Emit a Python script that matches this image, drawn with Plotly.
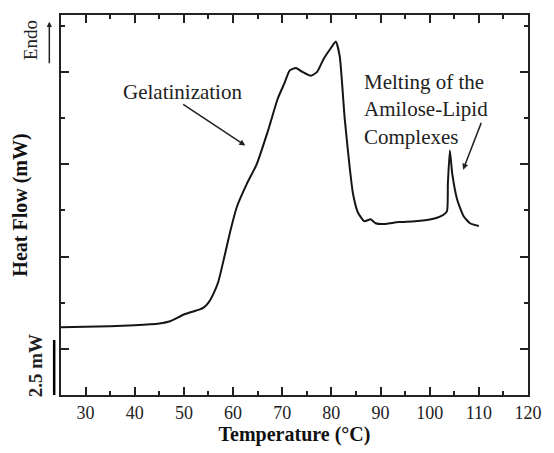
import plotly.graph_objects as go

# Data
temperature_c = [25, 30, 35, 40, 45, 47.2, 50, 53.1, 54, 55, 56, 57, 58.2, 59.5, 60.8,
                 62.8, 64.8, 67.1, 69.1, 70.5, 71.5, 72.8, 74.1, 75.8, 77.1, 78.4, 79.7,
                 80.9, 81.7, 82.7, 83.7, 84.4, 85.4, 86.7, 88.0, 89.0, 90.3, 93.7, 97.0,
                 100.3, 102.3, 103.5, 103.7, 104.1, 104.6, 105.6, 106.9, 108.2, 110]
heat_flow_mw = [3.08, 3.10, 3.13, 3.17, 3.25, 3.35, 3.66, 3.88, 3.97, 4.20, 4.60, 5.15,
                6.25, 7.50, 8.57, 9.60, 10.49, 12.01, 13.48, 14.20, 14.75, 14.87, 14.69,
                14.51, 14.69, 15.27, 15.71, 16.07, 15.40, 12.60, 10.40, 9.15, 8.30, 7.90,
                7.99, 7.81, 7.77, 7.86, 7.90, 7.99, 8.13, 8.35, 9.60, 11.12, 10.04, 8.88,
                8.13, 7.81, 7.68]

x_range = [25, 120]
y_range = [0, 17.277]
scale_bar_mw = 2.5

SERIF = "Liberation Serif, Times New Roman, serif"

fig = go.Figure()
fig.add_trace(go.Scatter(
    x=temperature_c, y=heat_flow_mw, mode="lines",
    line=dict(color="#151515", width=2, shape="spline", smoothing=0.5),
    showlegend=False, hoverinfo="skip"))

# Scale bar (2.5 mW)
fig.add_shape(type="line", xref="paper", yref="y",
              x0=-0.0146, x1=-0.0146, y0=0, y1=scale_bar_mw,
              line=dict(color="black", width=2.5))

annotations = [
    dict(text="Gelatinization", x=49.8, y=13.79, xref="x", yref="y",
         showarrow=False, font=dict(family=SERIF, size=21, color="#222")),
    dict(text="", x=62.49, y=11.34, ax=49.55, ay=13.26, xref="x", yref="y",
         axref="x", ayref="y", showarrow=True, arrowhead=2, arrowsize=0.8,
         arrowwidth=1.5, arrowcolor="#222"),
    dict(text="Melting of the<br>Amilose-Lipid<br>Complexes", x=86.3, y=13.0,
         xref="x", yref="y", xanchor="left", yanchor="middle", align="left",
         showarrow=False, font=dict(family=SERIF, size=21, color="#222")),
    dict(text="", x=106.8, y=10.24, ax=110.6, ay=12.44, xref="x", yref="y",
         axref="x", ayref="y", showarrow=True, arrowhead=2, arrowsize=0.8,
         arrowwidth=1.5, arrowcolor="#222"),
    dict(text="Endo", x=-0.065, y=(402 - 41) / 387, xref="paper", yref="paper",
         xanchor="center", yanchor="middle", textangle=-90,
         showarrow=False, font=dict(family=SERIF, size=19, color="#222")),
    dict(text="", x=-0.025, y=(402 - 22) / 387, xref="paper", yref="paper",
         ax=0, ay=43, showarrow=True, arrowhead=2, arrowsize=0.7,
         arrowwidth=1.5, arrowcolor="#222"),
    dict(text="<b>2.5 mW</b>", x=-0.054, y=(402 - 372) / 387, xref="paper",
         yref="paper", xanchor="center", yanchor="middle", textangle=-90,
         showarrow=False, font=dict(family=SERIF, size=19, color="#222")),
]

fig.update_layout(
    width=554, height=453,
    margin=dict(l=61, r=15, t=15, b=51),
    paper_bgcolor="white", plot_bgcolor="white",
    font=dict(family=SERIF, color="#222"),
    annotations=annotations,
    xaxis=dict(
        range=x_range, tick0=0, dtick=10, ticks="inside", ticklen=8,
        tickwidth=2, tickcolor="#222", showline=True, linecolor="#222",
        linewidth=2, mirror="ticks", showgrid=False, zeroline=False,
        tickfont=dict(family=SERIF, size=18, color="#222"),
        minor=dict(dtick=5, ticks="inside", ticklen=4, tickwidth=2, tickcolor="#222"),
        title=dict(text="<b>Temperature (°C)</b>", standoff=4,
                   font=dict(family=SERIF, size=20, color="#111")),
    ),
    yaxis=dict(
        range=y_range, tick0=2.098, dtick=4.196, ticks="inside", ticklen=8,
        tickwidth=2, tickcolor="#222", showline=True, linecolor="#222",
        linewidth=2, mirror="ticks", showgrid=False, zeroline=False,
        showticklabels=False,
        minor=dict(tick0=0, dtick=2.098, ticks="inside", ticklen=4, tickwidth=2,
                   tickcolor="#222"),
        title=dict(text="<b>Heat Flow (mW)</b>", standoff=26,
                   font=dict(family=SERIF, size=20, color="#111")),
    ),
)

fig.write_html("out.html")
